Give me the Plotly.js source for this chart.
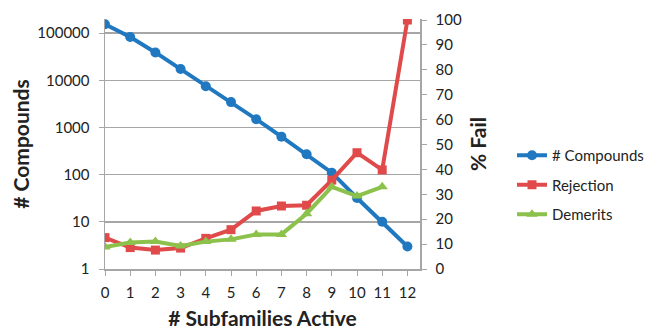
<!DOCTYPE html>
<html>
<head>
<meta charset="utf-8">
<script src="https://cdn.plot.ly/plotly-3.0.1.min.js"></script>
<style>html,body{margin:0;padding:0;background:#fff}#chart{width:655px;height:331px}</style>
</head>
<body>
<div id="chart"></div>
<script>
var subfamilies = [0,1,2,3,4,5,6,7,8,9,10,11,12];
var compounds = [155000, 83000, 39000, 17400, 7500, 3450, 1500, 640, 270, 110, 32, 10, 3];
var rejection = [12.6, 8.6, 7.6, 8.4, 12.3, 15.8, 23.3, 25.3, 25.6, 35.7, 46.7, 39.8, 100];
var demerits = [8.8, 10.6, 11.0, 9.2, 11.0, 11.9, 13.9, 13.9, 22.2, 33.0, 29.3, 33.0];
var leftTicks = [1, 10, 100, 1000, 10000, 100000];
var leftTickText = ['1', '10', '100', '1000', '10000', '100000'];

var font = 'Lato, "Open Sans", "Liberation Sans", sans-serif';
var traces = [
  {x: subfamilies, y: compounds, name: '# Compounds', legendgroup: 'a', type: 'scatter', mode: 'lines+markers',
   line: {color: '#2079c0', width: 4}, marker: {symbol: 'circle', size: 10, color: '#2079c0'}, yaxis: 'y'},
  {x: subfamilies, y: rejection, name: 'Rejection', legendgroup: 'b', type: 'scatter', mode: 'lines+markers',
   line: {color: '#e04a4a', width: 4}, marker: {symbol: 'square', size: 9, color: '#e04a4a'}, yaxis: 'y2'},
  {x: subfamilies.slice(0, demerits.length), y: demerits, name: 'Demerits', legendgroup: 'c', type: 'scatter', mode: 'lines+markers',
   line: {color: '#8cc14c', width: 4}, marker: {symbol: 'triangle-up', size: 10, color: '#8cc14c'}, yaxis: 'y2'}
];
var layout = {
  width: 655, height: 331,
  margin: {l: 105, r: 235, t: 19, b: 62, autoexpand: false},
  paper_bgcolor: '#fff', plot_bgcolor: '#fff',
  font: {family: font, size: 15, color: '#222'},
  showlegend: true,
  legend: {xref: 'container', yref: 'container', x: 512/655, y: 1 - 185/331, xanchor: 'left', yanchor: 'middle',
           font: {size: 15, color: '#222'}, tracegroupgap: 7, itemwidth: 30, bgcolor: 'rgba(0,0,0,0)'},
  xaxis: {range: [0, 12.5], tickvals: subfamilies, ticktext: subfamilies.map(String),
          showgrid: false, zeroline: false, showline: true, linecolor: '#a6a6a6', linewidth: 1.5,
          ticks: 'outside', ticklen: 5, tickcolor: '#a6a6a6', ticklabelstandoff: 4, automargin: false,
          tickfont: {size: 15}, title: {text: '<b># Subfamilies Active</b>', font: {size: 21}, standoff: 12}},
  yaxis: {type: 'log', range: [0, 5.3], tickvals: leftTicks, ticktext: leftTickText,
          showgrid: true, gridcolor: '#a6a6a6', gridwidth: 1.5, zeroline: false, automargin: false,
          showline: true, linecolor: '#a6a6a6', linewidth: 1.5, ticks: 'outside', ticklen: 5, tickcolor: '#a6a6a6',
          ticklabelstandoff: 6,
          tickfont: {size: 15}, title: {text: '<b># Compounds</b>', font: {size: 21}, standoff: 2}},
  yaxis2: {overlaying: 'y', side: 'right', range: [0, 100.4], tickvals: [0,10,20,30,40,50,60,70,80,90,100],
           showgrid: false, zeroline: false, showline: true, linecolor: '#a6a6a6', linewidth: 1.5,
           ticks: 'outside', ticklen: 5, tickcolor: '#a6a6a6', ticklabelstandoff: 6, automargin: false,
           tickfont: {size: 15}, title: {text: '<b>% Fail</b>', font: {size: 21}, standoff: 10}}
};
Plotly.newPlot('chart', traces, layout, {displayModeBar: false, staticPlot: true});
</script>
</body>
</html>
